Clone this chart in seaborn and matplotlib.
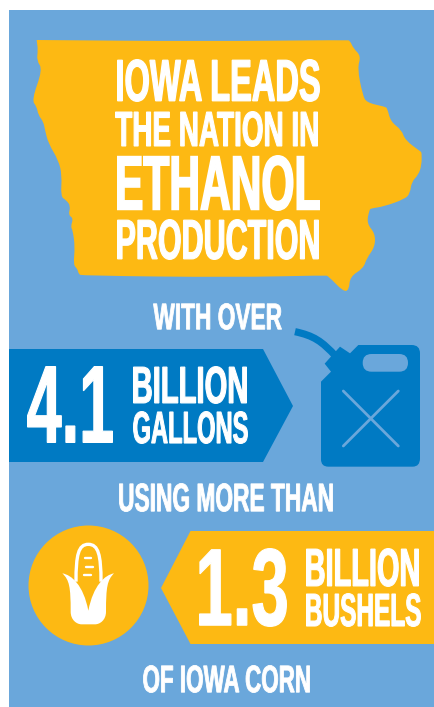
import numpy as np
import matplotlib
matplotlib.use("Agg")
import matplotlib.pyplot as plt
import seaborn as sns
from matplotlib.font_manager import FontProperties
from matplotlib.patches import Polygon, PathPatch, Rectangle, FancyBboxPatch
from matplotlib.path import Path
from matplotlib.patheffects import AbstractPathEffect
from matplotlib.textpath import TextPath
from matplotlib.transforms import Affine2D

# text of the graphic
headline = ["IOWA LEADS", "THE NATION IN", "ETHANOL", "PRODUCTION"]
with_over = "WITH OVER"
using_more = "USING MORE THAN"
of_iowa = "OF IOWA CORN"
gallons_value = "4.1"
gallons_unit = ["BILLION", "GALLONS"]
bushels_value = "1.3"
bushels_unit = ["BILLION", "BUSHELS"]

BLUE_BG = "#6AA7DB"
BLUE_DARK = "#007AC3"
YELLOW = "#FDB913"
WHITE = "#FFFFFF"
HEIGHT = 707

iowa_outline = np.array([
    (110, 121), (110, 120), (118, 120), (600, 124), (1040, 120), (1050, 122), (1060, 145), (1083, 168),
    (1072, 205), (1088, 285), (1100, 308), (1155, 320), (1162, 325), (1172, 365), (1205, 390),
    (1215, 420), (1262, 455), (1265, 457), (1265, 495), (1255, 525), (1235, 545), (1230, 580), (1215, 597),
    (1150, 620), (1113, 625), (1108, 630), (1100, 670), (1125, 700), (1125, 740), (1100, 775), (1090, 805),
    (1050, 830), (1047, 870), (1030, 875), (985, 828), (975, 826), (700, 832), (245, 827), (236, 822),
    (232, 806), (220, 795), (225, 740), (218, 690), (212, 680), (220, 655), (205, 645),
    (212, 618), (198, 600), (182, 590), (186, 525), (175, 480), (145, 430), (135, 390),
    (130, 365), (115, 345), (110, 320), (95, 300), (128, 208), (110, 182), (114, 150),
], dtype=float) / 3

sns.set_theme(style="white")
plt.rcParams["font.family"] = ["Liberation Sans Narrow", "Liberation Sans"]

fig = plt.figure(figsize=(4.34, 7.07), dpi=100)
ax = fig.add_axes([0, 0, 1, 1])


class Stretch(AbstractPathEffect):
    # stretch text upward from its baseline and fatten it, there is no Bebas style font here
    def __init__(self, sy, y0, grow):
        super().__init__()
        self.sy = sy
        self.y0 = y0
        self.grow = grow

    def draw_path(self, renderer, gc, tpath, affine, rgbFace=None):
        aff = affine + Affine2D().translate(0, -self.y0).scale(1, self.sy).translate(0, self.y0)
        gc0 = renderer.new_gc()
        gc0.copy_properties(gc)
        gc0.set_foreground(rgbFace)
        gc0.set_linewidth(self.grow)
        gc0.set_joinstyle("miter")
        renderer.draw_path(gc0, tpath, aff, rgbFace)
        gc0.restore()


def fit_text(s, left, top, right, bottom, weight=0.03):
    fp = FontProperties(family=["Liberation Sans Narrow", "Liberation Sans"], weight="bold")
    box = TextPath((0, 0), s, size=1, prop=fp).get_extents()
    grow = weight * (bottom - top)
    left, right = left + grow / 2, right - grow / 2
    top, bottom = top + grow / 2, bottom - grow / 2
    # font size from the width, the height comes from the stretch
    px = (right - left) / box.width
    sy = (bottom - top) / (box.height * px)
    x = left - box.x0 * px
    base = bottom + box.y0 * px * sy
    t = ax.text(x, base, s, color=WHITE, fontproperties=fp, ha="left", va="baseline")
    t.set_fontsize(px * 0.72)
    t.set_path_effects([Stretch(sy, HEIGHT - base, grow * 0.72)])
    return t


def smooth_closed(pts):
    # quadratic curves through the edge midpoints
    mids = (pts + np.roll(pts, -1, axis=0)) / 2
    verts = [mids[-1]]
    codes = [Path.MOVETO]
    for p, m in zip(pts, mids):
        verts += [p, m]
        codes += [Path.CURVE3, Path.CURVE3]
    return Path(verts, codes)


ax.add_patch(Rectangle((9, 10), 425, 697, color=BLUE_BG, lw=0))
ax.add_patch(PathPatch(smooth_closed(iowa_outline), fc=YELLOW, lw=0))

# arrows
ax.add_patch(Polygon([(9, 349), (263, 349), (293, 406), (263, 462), (9, 462)], color=BLUE_DARK, lw=0))
ax.add_patch(Polygon([(434, 531), (190.5, 531), (161, 588), (190.5, 644), (434, 644)], color=YELLOW, lw=0))

# fuel can, crop at (290, 320)
can_origin = (290, 320)
can = np.array([
    (205, 75), (365, 75), (390, 75), (390, 100), (390, 415), (390, 440), (368, 440), (115, 440), (93, 440), (93, 418),
    (93, 185), (123, 155), (104, 131), (120, 113), (150, 80), (180, 100), (205, 75),
], dtype=float) / 3 + can_origin
can_codes = [Path.MOVETO, Path.LINETO, Path.CURVE3, Path.CURVE3, Path.LINETO, Path.CURVE3, Path.CURVE3, Path.LINETO,
             Path.CURVE3, Path.CURVE3, Path.LINETO, Path.LINETO, Path.LINETO, Path.LINETO, Path.LINETO, Path.LINETO,
             Path.CLOSEPOLY]
ax.add_patch(PathPatch(Path(can, can_codes), fc=BLUE_DARK, lw=0))
spout = np.array([(15, 35), (70, 47), (95, 62), (140, 112)], dtype=float) / 3 + can_origin
ax.add_patch(PathPatch(Path(spout, [Path.MOVETO, Path.CURVE4, Path.CURVE4, Path.CURVE4]),
                       fc="none", ec=BLUE_DARK, lw=5.2, capstyle="butt"))
ax.add_patch(FancyBboxPatch((362.7, 354), 45.3, 17.7, boxstyle="round,pad=0,rounding_size=8.8", fc=BLUE_BG, lw=0))
sns.lineplot(x=[343.3, 398.3], y=[391, 446], sort=False, estimator=None, color=BLUE_BG, lw=2.0, ax=ax,
             solid_capstyle="round")
sns.lineplot(x=[398.3, 343.3], y=[391, 446], sort=False, estimator=None, color=BLUE_BG, lw=2.0, ax=ax,
             solid_capstyle="round")

# corn badge, crop at (50, 530)
corn_origin = (50, 530)
sns.scatterplot(x=[87.7], y=[585], s=7465, color=YELLOW, linewidth=0, ax=ax, legend=False)
husk = np.array([
    (37, 130), (65, 135), (100, 165), (115, 242),
    (130, 165), (165, 135), (192, 130),
    (172, 150), (168, 170), (168, 245),
    (168, 270), (150, 283), (135, 283),
    (95, 283),
    (80, 283), (62, 270), (62, 245),
    (62, 170), (58, 150), (37, 130),
    (37, 130),
], dtype=float) / 3 + corn_origin
husk_codes = [Path.MOVETO] + [Path.CURVE4] * 9 + [Path.CURVE4] * 3 + [Path.LINETO] + [Path.CURVE4] * 6 + [Path.CLOSEPOLY]
ax.add_patch(PathPatch(Path(husk, husk_codes), fc=WHITE, lw=0))
cob = np.array([(78, 155), (78, 75), (85, 43), (115, 43), (145, 43), (153, 75), (153, 155)],
               dtype=float) / 3 + corn_origin
ax.add_patch(PathPatch(Path(cob, [Path.MOVETO] + [Path.CURVE4] * 6), fc="none", ec=WHITE, lw=2.4, capstyle="butt"))
for yy, x1, x2 in [(85, 105, 124), (110, 108, 129), (135, 103, 122)]:
    sns.lineplot(x=[50 + x1 / 3, 50 + x2 / 3], y=[530 + yy / 3, 530 + yy / 3], sort=False, estimator=None,
                 color=WHITE, lw=1.7, ax=ax, solid_capstyle="round")

# headline
fit_text(headline[0], 117, 59, 320, 102)
fit_text(headline[1], 115, 111, 318, 147)
fit_text(headline[2], 117, 155, 320, 211)
fit_text(headline[3], 117, 219, 319, 260)

fit_text(with_over, 153, 303, 282, 330)
fit_text(gallons_value, 27, 366, 113, 443, weight=0.015)
fit_text(gallons_unit[0], 133, 366, 247, 404)
fit_text(gallons_unit[1], 133, 411, 248, 444)

fit_text(using_more, 119, 483, 333, 512)
fit_text(bushels_value, 199, 548, 287, 627, weight=0.015)
fit_text(bushels_unit[0], 306, 548, 419, 587)
fit_text(bushels_unit[1], 306, 593, 421, 627)
fit_text(of_iowa, 143, 665, 310, 693)

ax.set_xlim(0, 434)
ax.set_ylim(HEIGHT, 0)
ax.axis("off")
fig.savefig("out.png", dpi=100, facecolor="white")
